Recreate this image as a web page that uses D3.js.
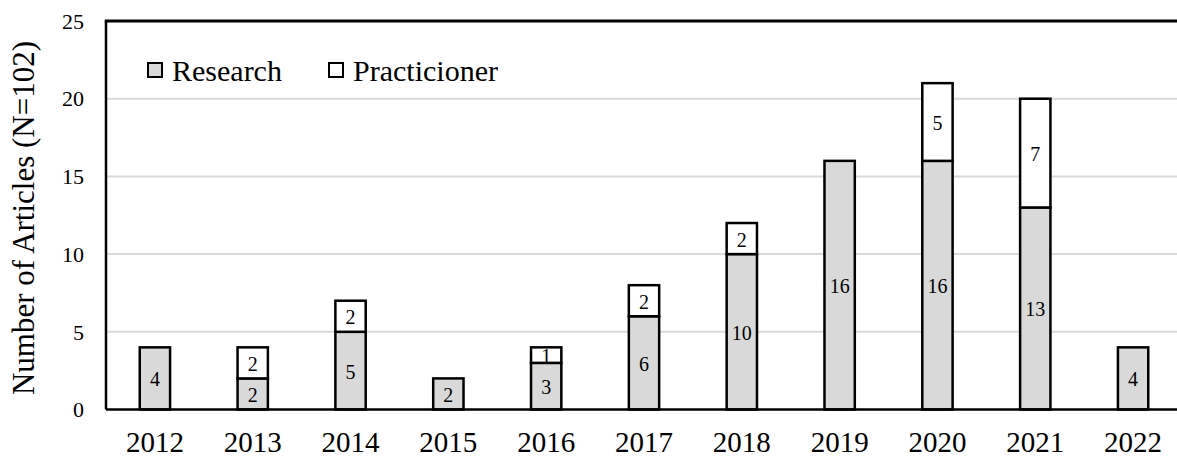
<!DOCTYPE html>
<html>
<head>
<meta charset="utf-8">
<script src="https://cdn.jsdelivr.net/npm/d3@7"></script>
<style>
  body { margin: 0; background: #fff; }
  text { font-family: "Liberation Serif", "Times New Roman", serif; fill: #000; }
</style>
</head>
<body>
<svg id="chart" width="1177" height="458"></svg>
<script>
// data
var years = ["2012", "2013", "2014", "2015", "2016", "2017", "2018", "2019", "2020", "2021", "2022"];
var research = [4, 2, 5, 2, 3, 6, 10, 16, 16, 13, 4];
var practicioner = [0, 2, 2, 0, 1, 2, 2, 0, 5, 7, 0];
var yTicks = [0, 5, 10, 15, 20, 25];
var seriesNames = ["Research", "Practicioner"];
var seriesColors = ["#d9d9d9", "#ffffff"];

var svg = d3.select("#chart");

// plot edges (the band range runs past the right edge, like the cropped original)
var plotLeft = 106, plotTop = 21, plotBottom = 409.5, plotRight = 1182;

var x = d3.scaleBand().domain(years).range([plotLeft, plotRight]).paddingInner(0.69).paddingOuter(0.345);
var y = d3.scaleLinear().domain([0, 25]).range([plotBottom, plotTop]);

// gridlines
svg.append("g").selectAll("line")
    .data(yTicks.filter(function (d) { return d > 0 && d < 25; }))
    .enter().append("line")
    .attr("x1", plotLeft).attr("x2", 1177)
    .attr("y1", function (d) { return y(d); })
    .attr("y2", function (d) { return y(d); })
    .attr("stroke", "#d9d9d9")
    .attr("stroke-width", 2);

// stacked data
var table = years.map(function (yr, i) {
    return { year: yr, Research: research[i], Practicioner: practicioner[i] };
});
var stack = d3.stack().keys(seriesNames)(table);

var layer = svg.append("g").selectAll("g")
    .data(stack)
    .enter().append("g")
    .attr("fill", function (d, i) { return seriesColors[i]; });

layer.selectAll("rect")
    .data(function (d) { return d.filter(function (p) { return p[1] - p[0] > 0; }); })
    .enter().append("rect")
    .attr("x", function (d) { return x(d.data.year); })
    .attr("width", x.bandwidth())
    .attr("y", function (d) { return y(d[1]); })
    .attr("height", function (d) { return y(d[0]) - y(d[1]); })
    .attr("stroke", "#000")
    .attr("stroke-width", 2.5);

// value labels
svg.append("g").selectAll("g")
    .data(stack)
    .enter().append("g")
    .selectAll("text")
    .data(function (d) { return d.filter(function (p) { return p[1] - p[0] > 0; }); })
    .enter().append("text")
    .attr("x", function (d) { return x(d.data.year) + x.bandwidth() / 2; })
    .attr("y", function (d) { return y((d[0] + d[1]) / 2); })
    .attr("dy", "0.4em")
    .attr("text-anchor", "middle")
    .style("font-size", "20px")
    .text(function (d) { return d[1] - d[0]; });

// axis lines and top border
svg.append("line")
    .attr("x1", plotLeft).attr("x2", plotLeft).attr("y1", plotTop).attr("y2", plotBottom)
    .attr("stroke", "#000").attr("stroke-width", 2.5);
svg.append("line")
    .attr("x1", plotLeft).attr("x2", 1177).attr("y1", plotBottom).attr("y2", plotBottom)
    .attr("stroke", "#000").attr("stroke-width", 2.5);
svg.append("line")
    .attr("x1", plotLeft - 1.25).attr("x2", 1177).attr("y1", plotTop).attr("y2", plotTop)
    .attr("stroke", "#000").attr("stroke-width", 3);

// y tick labels
svg.append("g").selectAll("text")
    .data(yTicks)
    .enter().append("text")
    .attr("x", 84)
    .attr("y", function (d) { return y(d); })
    .attr("dy", "0.35em")
    .attr("text-anchor", "end")
    .style("font-size", "22px")
    .text(function (d) { return d; });

// x tick labels
svg.append("g").selectAll("text")
    .data(years)
    .enter().append("text")
    .attr("x", function (d) { return x(d) + x.bandwidth() / 2; })
    .attr("y", 452)
    .attr("text-anchor", "middle")
    .style("font-size", "29px")
    .text(function (d) { return d; });

// y axis title
svg.append("text")
    .attr("transform", "translate(34,218) rotate(-90)")
    .attr("text-anchor", "middle")
    .style("font-size", "31px")
    .text("Number of Articles (N=102)");

// legend
var legendX = [148, 329];
var legend = svg.append("g").selectAll("g")
    .data(seriesNames)
    .enter().append("g")
    .attr("transform", function (d, i) { return "translate(" + legendX[i] + ",63)"; });
legend.append("rect")
    .attr("width", 14).attr("height", 14)
    .attr("fill", function (d, i) { return seriesColors[i]; })
    .attr("stroke", "#000").attr("stroke-width", 2);
legend.append("text")
    .attr("x", 24).attr("y", 18)
    .style("font-size", "30px")
    .text(function (d) { return d; });
</script>
</body>
</html>
